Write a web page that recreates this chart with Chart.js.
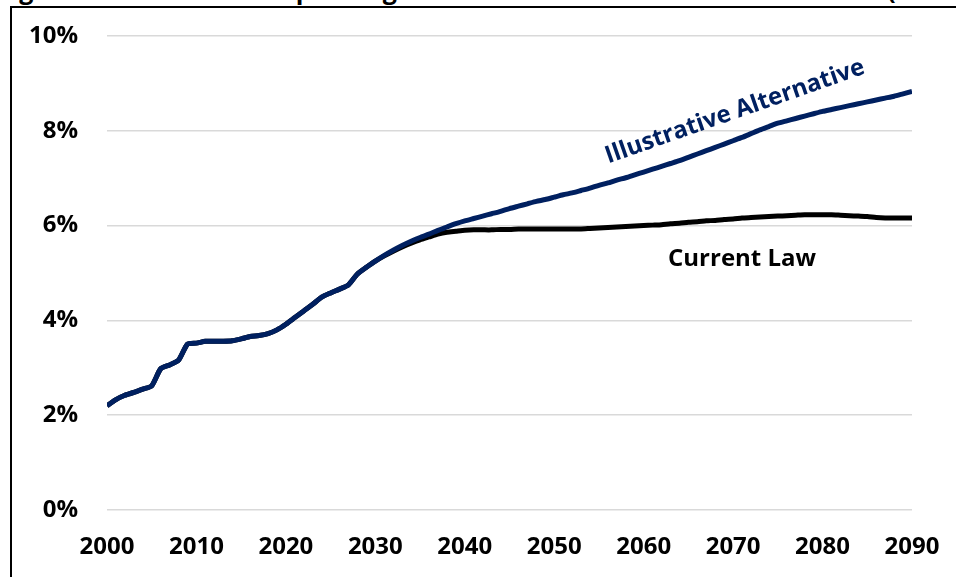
<!DOCTYPE html>
<html>
<head>
<meta charset="utf-8">
<script src="https://cdn.jsdelivr.net/npm/chart.js@4/dist/chart.umd.min.js"></script>
<style>
    html, body { margin: 0; padding: 0; background: #fff; overflow: hidden; }
    body { width: 956px; height: 577px; position: relative; font-family: "Open Sans", sans-serif; }
    #title {
        position: absolute; left: -2px; top: -23px;
        font: bold 25px/25px "Open Sans", sans-serif; white-space: nowrap; color: #000;
    }
    #frame {
        position: absolute; left: 10px; top: 6px; width: 2000px; height: 2000px;
        border-left: 2px solid #000; border-top: 2px solid #000; pointer-events: none;
    }
    #chart { position: absolute; left: 0; top: 0; }
</style>
</head>
<body>
<div id="title">Figure: Total Medicare Spending in the Illustrative Alternative Scenario (% of GDP)</div>
<canvas id="chart" width="956" height="577"></canvas>
<div id="frame"></div>
<script>
// ── Data (percent of GDP, one value per year 2000–2090) ────────────────────

const YEAR_START = 2000;
const X_TICKS = [2000, 2010, 2020, 2030, 2040, 2050, 2060, 2070, 2080, 2090];
const Y_TICKS = [0, 2, 4, 6, 8, 10];

// shared history/projection before the scenarios split (2000–2030)
const commonPath = [
    2.20, 2.33, 2.42, 2.48, 2.55, 2.62, 2.98, 3.06, 3.16, 3.50,
    3.52, 3.56, 3.56, 3.56, 3.57, 3.61, 3.66, 3.68, 3.72, 3.80,
    3.92, 4.06, 4.20, 4.34, 4.49, 4.58, 4.66, 4.75, 4.98, 5.12,
    5.25,
];

// 2031–2090
const altTail = [
          5.37, 5.48, 5.58, 5.67, 5.75, 5.82, 5.90, 5.97, 6.04,
    6.10, 6.15, 6.20, 6.25, 6.30, 6.36, 6.41, 6.46, 6.51, 6.55,
    6.60, 6.65, 6.69, 6.74, 6.79, 6.85, 6.90, 6.96, 7.01, 7.07,
    7.13, 7.19, 7.25, 7.31, 7.37, 7.44, 7.51, 7.58, 7.65, 7.72,
    7.79, 7.86, 7.94, 8.02, 8.09, 8.16, 8.21, 8.26, 8.31, 8.36,
    8.41, 8.45, 8.49, 8.53, 8.57, 8.61, 8.65, 8.69, 8.73, 8.78,
    8.83,
];

const lawTail = [
          5.36, 5.46, 5.55, 5.63, 5.70, 5.76, 5.82, 5.86, 5.88,
    5.90, 5.91, 5.91, 5.91, 5.92, 5.92, 5.93, 5.93, 5.93, 5.93,
    5.93, 5.93, 5.93, 5.93, 5.94, 5.95, 5.96, 5.97, 5.98, 5.99,
    6.00, 6.01, 6.02, 6.04, 6.05, 6.07, 6.08, 6.10, 6.11, 6.13,
    6.14, 6.16, 6.17, 6.18, 6.19, 6.20, 6.21, 6.22, 6.23, 6.23,
    6.23, 6.23, 6.22, 6.21, 6.20, 6.19, 6.17, 6.16, 6.16, 6.16,
    6.16,
];

const illustrativeAlternative = commonPath.concat(altTail);
const currentLaw = commonPath.concat(lawTail);

// in-chart series labels, anchored in data coordinates
const SERIES_LABELS = [
    { text: 'Illustrative Alternative', year: 2070.2, value: 8.40, angle: -19.3, color: '#002060' },
    { text: 'Current Law',              year: 2071.0, value: 5.30, angle: 0,     color: '#000000' },
];

const toPoints = (arr) => arr.map((v, i) => ({ x: YEAR_START + i, y: v }));

// ── Chart ──────────────────────────────────────────────────────────────────

const FONT = { family: '"Open Sans", sans-serif', size: 24, weight: 'bold' };

const seriesLabelPlugin = {
    id: 'seriesLabels',
    afterDatasetsDraw(chart) {
        const { ctx, scales } = chart;
        ctx.save();
        ctx.font = `bold 24px ${FONT.family}`;
        ctx.textAlign = 'center';
        ctx.textBaseline = 'middle';
        SERIES_LABELS.forEach(({ text, year, value, angle, color }) => {
            const px = scales.x.getPixelForValue(year);
            const py = scales.y.getPixelForValue(value);
            ctx.save();
            ctx.translate(px, py);
            ctx.rotate(angle * Math.PI / 180);
            ctx.fillStyle = color;
            ctx.fillText(text, 0, 0);
            ctx.restore();
        });
        ctx.restore();
    },
};

new Chart(document.getElementById('chart'), {
    type: 'line',
    data: {
        datasets: [
            {
                label: 'Illustrative Alternative',
                data: toPoints(illustrativeAlternative),
                borderColor: '#002060',
                borderWidth: 5,
                pointRadius: 0,
                tension: 0.2,
            },
            {
                label: 'Current Law',
                data: toPoints(currentLaw),
                borderColor: '#000000',
                borderWidth: 5,
                pointRadius: 0,
                tension: 0.2,
            },
        ],
    },
    options: {
        responsive: false,
        animation: false,
        devicePixelRatio: 1,
        layout: { padding: { top: 36, right: 44, left: 0, bottom: 0 } },
        plugins: { legend: { display: false }, tooltip: { enabled: false } },
        scales: {
            x: {
                type: 'linear',
                min: 2000,
                max: 2090,
                afterBuildTicks: (scale) => { scale.ticks = X_TICKS.map(v => ({ value: v })); },
                afterFit: (scale) => {
                    scale.height = 67;
                    scale.paddingLeft = 0;
                    scale.paddingRight = 0;
                },
                ticks: {
                    color: '#000',
                    font: FONT,
                    padding: 23,
                    maxRotation: 0,
                    autoSkip: false,
                    callback: (v) => String(v),
                },
                grid: { display: false, drawTicks: false },
                border: { display: false },
            },
            y: {
                min: 0,
                max: 10,
                afterBuildTicks: (scale) => { scale.ticks = Y_TICKS.map(v => ({ value: v })); },
                afterFit: (scale) => {
                    scale.width = 107;
                    scale.paddingTop = 0;
                    scale.paddingBottom = 0;
                },
                ticks: {
                    color: '#000',
                    font: FONT,
                    padding: 29,
                    callback: (v) => `${v}%`,
                },
                grid: { color: '#d9d9d9', lineWidth: 1.5, drawTicks: false },
                border: { display: false },
            },
        },
    },
    plugins: [seriesLabelPlugin],
});
</script>
</body>
</html>
